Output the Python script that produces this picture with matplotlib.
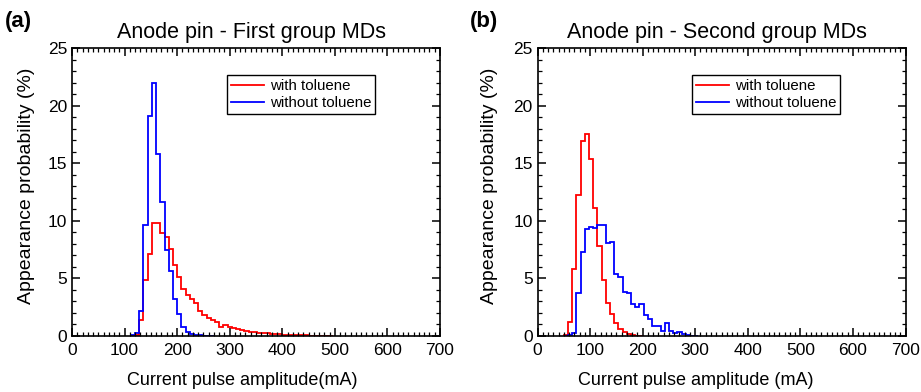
import numpy as np
import matplotlib.pyplot as plt
from matplotlib.ticker import MultipleLocator

plt.rcParams['font.family'] = ['Liberation Sans', 'DejaVu Sans']

bin_width = 8  # mA

# first group MDs, histogram starting at 112 mA
a_start = 112
a_with = [0.02, 0.1, 1.4, 4.86, 7.1, 9.78, 9.84, 8.97, 8.56, 7.55, 6.16, 5.15,
          4.05, 3.56, 3.2, 2.9, 2.2, 1.85, 1.53, 1.39, 1.24, 0.81, 0.95, 0.8,
          0.72, 0.65, 0.55, 0.45, 0.38, 0.32, 0.28, 0.25, 0.22, 0.2, 0.17, 0.15,
          0.12, 0.1, 0.08, 0.07, 0.05, 0.05, 0.04, 0.03, 0.03, 0.02, 0.02, 0.01]
a_without = [0.05, 0.3, 2.2, 9.6, 19.1, 22.0, 15.8, 11.6, 7.5, 5.6, 3.2, 1.9,
             0.8, 0.35, 0.15, 0.08, 0.05, 0.03, 0.02, 0.01]

# second group MDs, histogram starting at 50 mA
b_start = 50
b_with = [0.05, 1.2, 5.8, 12.2, 16.9, 17.5, 15.4, 11.1, 7.8, 4.9, 2.9, 1.9,
          1.1, 0.58, 0.38, 0.17, 0.06, 0.03, 0.01]
b_without = [0.0, 0.05, 0.3, 3.76, 7.3, 9.3, 9.5, 9.4, 9.6, 9.6, 8.1, 8.2, 5.4,
             5.15, 3.85, 3.76, 2.8, 2.5, 2.8, 1.8, 1.45, 0.87, 0.87, 0.46, 1.1,
             0.46, 0.29, 0.38, 0.17, 0.08, 0.04, 0.02]

panels = [
    ("(a)", "Anode pin - First group MDs", "Current pulse amplitude(mA)", a_start, a_with, a_without),
    ("(b)", "Anode pin - Second group MDs", "Current pulse amplitude (mA)", b_start, b_with, b_without),
]


def edges_for(start, values):
    return start + bin_width * np.arange(len(values) + 1)


def main():
    fig = plt.figure(figsize=(9.21, 3.92), dpi=100)
    lefts = [72, 537.5]
    tag_x = [5, 470]
    xlabel_x = [0.462, 0.431]
    ylabel_x = [-0.100, -0.106]
    width = 368 / 921
    bottom = 1 - 336 / 392
    height = 288 / 392
    for left, tx, lx, ly, (tag, title, xlabel, start, with_t, without_t) in zip(
            lefts, tag_x, xlabel_x, ylabel_x, panels):
        ax = fig.add_axes([left / 921, bottom, width, height])
        ax.stairs(with_t, edges_for(start, with_t), color="#ff0000", lw=1.3, label="with toluene")
        ax.stairs(without_t, edges_for(start, without_t), color="#0000ff", lw=1.3, label="without toluene")
        ax.set_xlim(0, 700)
        ax.set_ylim(0, 25)
        ax.xaxis.set_major_locator(MultipleLocator(100))
        ax.xaxis.set_minor_locator(MultipleLocator(10))
        ax.yaxis.set_major_locator(MultipleLocator(5))
        ax.yaxis.set_minor_locator(MultipleLocator(1))
        ax.tick_params(which="both", direction="in", top=True, right=True, labelsize=12.5)
        ax.tick_params(which="major", length=6, width=1.1)
        ax.tick_params(which="minor", length=3, width=0.9)
        ax.tick_params(axis="x", which="major", pad=5)
        for s in ax.spines.values():
            s.set_linewidth(1.2)
        ax.set_title(title, fontsize=15.5, pad=7, x=0.488)
        ax.set_xlabel(xlabel, fontsize=13)
        ax.xaxis.set_label_coords(lx, -0.125)
        ax.set_ylabel("Appearance probability (%)", fontsize=14)
        ax.yaxis.set_label_coords(ly, 0.52)
        ax.legend(loc="upper left", bbox_to_anchor=(0.421, 0.906), borderaxespad=0,
                  fontsize=10.8, frameon=True, fancybox=False, edgecolor="black",
                  framealpha=1, handlelength=2.2, handletextpad=0.4,
                  borderpad=0.25, labelspacing=0.2)
        ax.get_legend().get_frame().set_linewidth(1.0)
        fig.text(tx / 921, 1 - 22 / 392, tag, fontsize=16, fontweight="bold", va="center", ha="left")
    fig.savefig("out.png", dpi=100)


if __name__ == "__main__":
    main()
